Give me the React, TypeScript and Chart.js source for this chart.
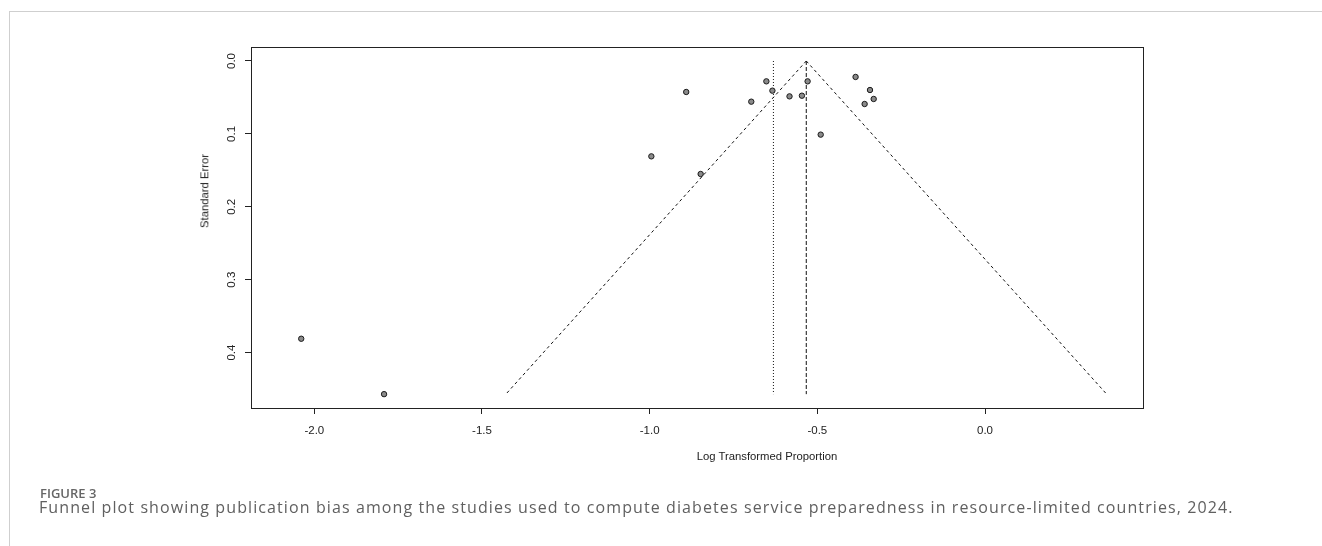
import React, { useEffect, useRef } from "react";
import { Chart, registerables } from "chart.js";

Chart.register(...registerables);

// Study-level data (log transformed proportion, standard error)
const logProportion = [
  -0.891, -0.652, -0.634, -0.697, -0.583, -0.546, -0.529, -0.386,
  -0.343, -0.332, -0.359, -0.49, -0.995, -0.848, -2.039, -1.792,
];
const standardError = [
  0.0425, 0.0279, 0.0407, 0.0558, 0.0485, 0.0476, 0.0279, 0.0219,
  0.0398, 0.0521, 0.059, 0.101, 0.1308, 0.155, 0.381, 0.457,
];

// Funnel reference values
const pooledEstimate = -0.533;
const referenceEstimate = -0.631;
const maxSE = 0.457;
const zCrit = 1.96;

// Axis ticks and ranges
const xTicks = [-2.0, -1.5, -1.0, -0.5, 0.0];
const yTicks = [0.0, 0.1, 0.2, 0.3, 0.4];
const xRange = [-2.1888, 0.4711];
const yRange = [-0.0192, 0.476];

const xTitle = "Log Transformed Proportion";
const yTitle = "Standard Error";
const figureLabel = "FIGURE 3";
const captionText =
  "Funnel plot showing publication bias among the studies used to compute diabetes service preparedness in resource-limited countries, 2024.";

const rFont = "'Liberation Sans', Arial, Helvetica, sans-serif";
const ink = "#222222";

const boxPlugin = {
  id: "rbox",
  afterDraw(chart: any) {
    const { ctx, chartArea } = chart;
    ctx.save();
    ctx.strokeStyle = ink;
    ctx.lineWidth = 1;
    ctx.strokeRect(
      Math.round(chartArea.left) + 0.5,
      Math.round(chartArea.top) + 0.5,
      Math.round(chartArea.right - chartArea.left),
      Math.round(chartArea.bottom - chartArea.top)
    );
    ctx.restore();
  },
};

export default function App() {
  const canvasRef = useRef<HTMLCanvasElement | null>(null);

  useEffect(() => {
    const canvas = canvasRef.current;
    if (!canvas) return;

    const points = logProportion.map((x, i) => ({ x, y: standardError[i] }));
    const leftFunnel = [
      { x: pooledEstimate, y: 0 },
      { x: pooledEstimate - zCrit * maxSE, y: maxSE },
    ];
    const rightFunnel = [
      { x: pooledEstimate, y: 0 },
      { x: pooledEstimate + zCrit * maxSE, y: maxSE },
    ];
    const centerLine = [
      { x: pooledEstimate, y: 0 },
      { x: pooledEstimate, y: maxSE },
    ];
    const refLine = [
      { x: referenceEstimate, y: 0 },
      { x: referenceEstimate, y: maxSE },
    ];

    const lineDs = (data: any[], dash: number[]) => ({
      data,
      showLine: true,
      borderColor: "#111111",
      borderWidth: 1,
      borderDash: dash,
      pointRadius: 0,
      fill: false,
    });

    const chart = new Chart(canvas, {
      type: "scatter",
      data: {
        datasets: [
          {
            data: points,
            pointRadius: 2.7,
            pointBackgroundColor: "#8a8a8a",
            pointBorderColor: "#1a1a1a",
            pointBorderWidth: 1,
            showLine: false,
          } as any,
          lineDs(leftFunnel, [3, 3]),
          lineDs(rightFunnel, [3, 3]),
          lineDs(centerLine, [4, 2]),
          lineDs(refLine, [1, 2]),
        ],
      },
      options: {
        responsive: false,
        animation: false,
        devicePixelRatio: 1,
        layout: { padding: { left: 191, right: 179, top: 47, bottom: 78 } },
        plugins: {
          legend: { display: false },
          tooltip: { enabled: false },
          title: { display: false },
        },
        scales: {
          x: {
            type: "linear",
            position: "bottom",
            min: xRange[0],
            max: xRange[1],
            afterBuildTicks: (scale: any) => {
              scale.ticks = xTicks.map((v) => ({ value: v }));
            },
            afterFit: (scale: any) => {
              scale.height = 60;
              scale.paddingLeft = 0;
              scale.paddingRight = 0;
            },
            grid: {
              drawOnChartArea: false,
              drawTicks: true,
              tickLength: 6,
              tickColor: ink,
              color: ink,
            },
            border: { display: true, color: ink, width: 1 },
            ticks: {
              autoSkip: false,
              maxRotation: 0,
              minRotation: 0,
              padding: 10,
              color: ink,
              font: { family: rFont, size: 11.5 },
              callback: (v: any) => Number(v).toFixed(1),
            },
          },
          y: {
            type: "linear",
            position: "left",
            reverse: true,
            min: yRange[0],
            max: yRange[1],
            afterBuildTicks: (scale: any) => {
              scale.ticks = yTicks.map((v) => ({ value: v }));
            },
            afterFit: (scale: any) => {
              scale.width = 60;
              scale.paddingTop = 0;
              scale.paddingBottom = 0;
            },
            grid: {
              drawOnChartArea: false,
              drawTicks: true,
              tickLength: 6,
              tickColor: ink,
              color: ink,
            },
            border: { display: true, color: ink, width: 1 },
            ticks: {
              autoSkip: false,
              minRotation: 90,
              maxRotation: 90,
              crossAlign: "center",
              padding: 5,
              color: ink,
              font: { family: rFont, size: 11.5 },
              callback: (v: any) => Number(v).toFixed(1),
            },
          },
        },
      },
      plugins: [boxPlugin],
    });

    return () => chart.destroy();
  }, []);

  return (
    <div
      style={{
        position: "absolute",
        left: 0,
        top: 0,
        width: 1322,
        height: 546,
        overflow: "hidden",
        background: "#ffffff",
      }}
    >
      <div
        style={{
          position: "absolute",
          left: 9,
          top: 11,
          width: 1313,
          height: 1,
          background: "#cfcfcf",
        }}
      />
      <div
        style={{
          position: "absolute",
          left: 9,
          top: 11,
          width: 1,
          height: 535,
          background: "#cfcfcf",
        }}
      />
      <canvas
        ref={canvasRef}
        width={1322}
        height={546}
        style={{ position: "absolute", left: 0, top: 0, width: 1322, height: 546 }}
      />
      <div
        style={{
          position: "absolute",
          left: 205,
          top: 191,
          transform: "translate(-50%, -50%) rotate(-90deg)",
          fontFamily: rFont,
          fontSize: 11.3,
          color: ink,
          whiteSpace: "nowrap",
          lineHeight: 1,
        }}
      >
        {yTitle}
      </div>
      <div
        style={{
          position: "absolute",
          left: 767,
          top: 457,
          transform: "translate(-50%, -50%)",
          fontFamily: rFont,
          fontSize: 11.3,
          color: ink,
          whiteSpace: "nowrap",
          lineHeight: 1,
        }}
      >
        {xTitle}
      </div>
      <div
        style={{
          position: "absolute",
          left: 40,
          top: 483.5,
          fontFamily: "'Open Sans', sans-serif",
          fontWeight: 600,
          fontSize: 13,
          color: "#666666",
          whiteSpace: "nowrap",
        }}
      >
        {figureLabel}
      </div>
      <div
        style={{
          position: "absolute",
          left: 39,
          top: 496,
          fontFamily: "'Open Sans', sans-serif",
          fontWeight: 400,
          fontSize: 16,
          letterSpacing: 1.1,
          color: "#606060",
          whiteSpace: "nowrap",
        }}
      >
        {captionText}
      </div>
    </div>
  );
}
